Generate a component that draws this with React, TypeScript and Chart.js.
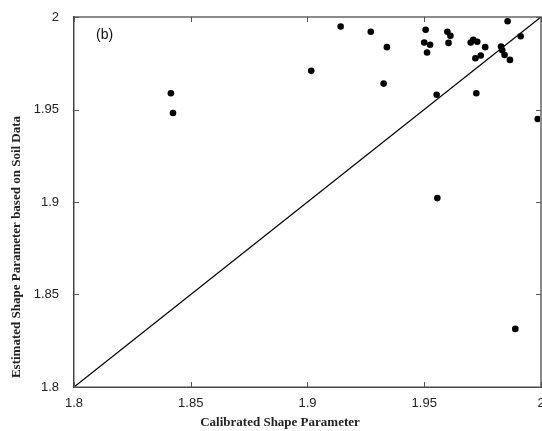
import React, { useEffect, useRef } from "react";
import { Chart, registerables } from "chart.js";

Chart.register(...registerables);

const calibrated = [
  1.8415, 1.8424, 1.9016, 1.9142, 1.9271, 1.934, 1.9326, 1.9506, 1.95, 1.9525,
  1.9512, 1.9553, 1.9556, 1.9599, 1.9612, 1.9604, 1.9699, 1.971, 1.9727, 1.9761,
  1.9719, 1.9742, 1.9723, 1.9857, 1.9913, 1.9829, 1.9834, 1.9844, 1.9867, 1.9986,
  1.989,
];
const estimated = [
  1.9588, 1.9481, 1.9709, 1.9949, 1.992, 1.9837, 1.964, 1.9931, 1.9862, 1.985,
  1.9808, 1.958, 1.9021, 1.992, 1.9898, 1.986, 1.9862, 1.9877, 1.9866, 1.9837,
  1.9777, 1.9792, 1.9588, 1.9977, 1.9896, 1.984, 1.982, 1.9795, 1.9768, 1.9449,
  1.8314,
];
const lineX = [1.8, 2.0];
const lineY = [1.8, 2.0];
const xTicks = [1.8, 1.85, 1.9, 1.95, 2.0];
const xTickLabels = ["1.8", "1.85", "1.9", "1.95", "2"];
const yTicks = [1.8, 1.85, 1.9, 1.95, 2.0];
const yTickLabels = ["1.8", "1.85", "1.9", "1.95", "2"];
const xTitle = "Calibrated Shape Parameter";
const yTitle = "Estimated Shape Parameter based on Soil Data";
const panelLabel = "(b)";

const framePlugin = {
  id: "frame",
  afterDraw(chart: any) {
    const ctx = chart.ctx;
    const ca = chart.chartArea;
    const left = Math.round(ca.left);
    const right = Math.round(ca.right);
    const top = Math.round(ca.top);
    const bottom = Math.round(ca.bottom);
    const xs = chart.scales.x;
    const ys = chart.scales.y;
    ctx.save();
    ctx.globalAlpha = 1;
    ctx.fillStyle = "#8a8a8a";
    ctx.fillRect(left, top - 1, right - left + 1, 2);
    ctx.fillRect(right - 1, top - 1, 2, bottom - top + 2);
    ctx.fillStyle = "#444";
    ctx.fillRect(left - 1, top - 1, 1.5, bottom - top + 2);
    ctx.fillRect(left - 1, bottom - 0.5, right - left + 2, 1.5);
    const tl = 5;
    ctx.fillStyle = "#555";
    xTicks.forEach((v) => {
      const px = Math.round(xs.getPixelForValue(v));
      ctx.fillRect(px, bottom - tl, 1, tl);
      ctx.fillRect(px, top, 1, tl);
    });
    yTicks.forEach((v) => {
      const py = Math.round(ys.getPixelForValue(v));
      ctx.fillRect(left, py, tl, 1);
      ctx.fillRect(right - tl, py, tl, 1);
    });
    ctx.fillStyle = "#222";
    ctx.font = "bold 13px 'Liberation Serif', serif";
    ctx.textAlign = "center";
    ctx.textBaseline = "middle";
    ctx.fillText(xTitle, 280, 423);
    ctx.save();
    ctx.translate(17, 247);
    ctx.rotate(-Math.PI / 2);
    ctx.fillText(yTitle, 0, 0);
    ctx.restore();
    ctx.font = "14px 'Liberation Sans', sans-serif";
    ctx.textAlign = "left";
    ctx.fillStyle = "#111";
    ctx.fillText(panelLabel, 96, 35);
    ctx.restore();
  },
};

export default function App() {
  const ref = useRef<HTMLCanvasElement | null>(null);
  useEffect(() => {
    if (!ref.current) return;
    const chart = new Chart(ref.current, {
      type: "scatter",
      data: {
        datasets: [
          {
            label: "points",
            data: calibrated.map((x, i) => ({ x, y: estimated[i] })),
            backgroundColor: "#000",
            borderColor: "#000",
            pointRadius: 3.3,
            pointHoverRadius: 3.3,
            borderWidth: 0,
          },
          {
            label: "1:1",
            type: "line",
            data: lineX.map((x, i) => ({ x, y: lineY[i] })),
            borderColor: "#000",
            borderWidth: 1.3,
            pointRadius: 0,
            fill: false,
          } as any,
        ],
      },
      options: {
        animation: false,
        responsive: true,
        maintainAspectRatio: false,
        layout: { padding: { left: 0, right: 0, top: 17, bottom: 0 } },
        plugins: { legend: { display: false }, tooltip: { enabled: false } },
        scales: {
          x: {
            type: "linear",
            min: 1.8,
            max: 2.0,
            grid: { display: false, drawTicks: false },
            border: { display: false },
            afterBuildTicks: (s: any) => {
              s.ticks = xTicks.map((v) => ({ value: v }));
            },
            afterFit: (s: any) => {
              s.height = 44;
              s.paddingLeft = 0;
              s.paddingRight = 0;
            },
            ticks: {
              padding: 9,
              maxRotation: 0,
              autoSkip: false,
              color: "#222",
              font: { family: "'Liberation Sans', sans-serif", size: 13 },
              callback: (_v: any, i: number) => xTickLabels[i],
            },
          },
          y: {
            type: "linear",
            min: 1.8,
            max: 2.0,
            grid: { display: false, drawTicks: false },
            border: { display: false },
            afterBuildTicks: (s: any) => {
              s.ticks = yTicks.map((v) => ({ value: v }));
            },
            afterFit: (s: any) => {
              s.width = 74;
              s.paddingTop = 0;
              s.paddingBottom = 0;
            },
            ticks: {
              padding: 15,
              autoSkip: false,
              color: "#222",
              font: { family: "'Liberation Sans', sans-serif", size: 13 },
              callback: (_v: any, i: number) => yTickLabels[i],
            },
          },
        },
      },
      plugins: [framePlugin],
    });
    return () => chart.destroy();
  }, []);
  return (
    <div style={{ position: "absolute", left: 0, top: 0, width: 542, height: 431, overflow: "hidden", background: "#fff" }}>
      <div style={{ position: "relative", width: 544.3, height: 431 }}>
        <canvas ref={ref} />
      </div>
    </div>
  );
}
